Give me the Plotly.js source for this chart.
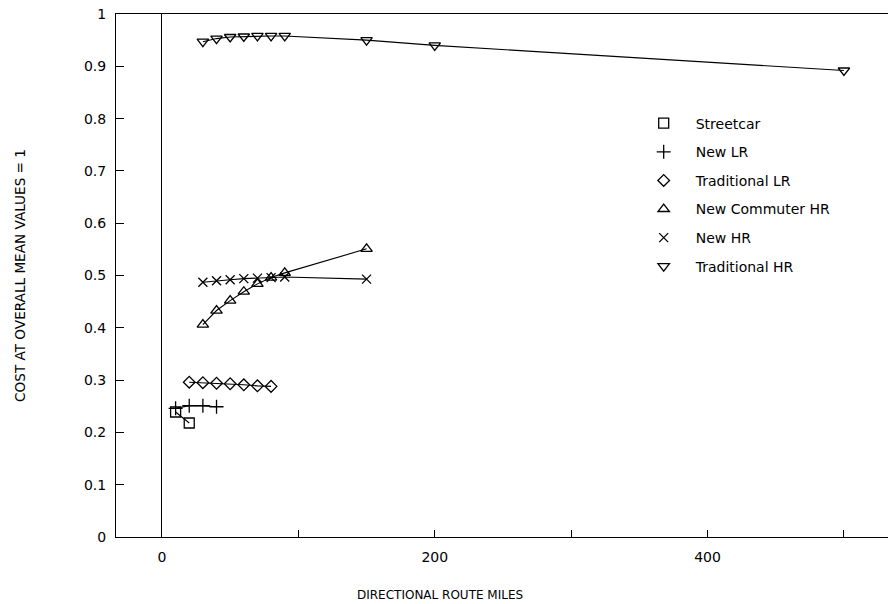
<!DOCTYPE html>
<html>
<head>
<meta charset="utf-8">
<script src="https://cdn.plot.ly/plotly-3.0.1.min.js"></script>
<style>html,body{margin:0;padding:0;background:#fff;}#chart{width:888px;height:604px;}</style>
</head>
<body>
<div id="chart"></div>
<script>
// ---- data ----
const seriesNames = ["Streetcar", "New LR", "Traditional LR", "New Commuter HR", "New HR", "Traditional HR"];
const streetcarX = [10, 20];
const streetcarY = [0.239, 0.218];
const newLRX = [10, 20, 30, 40];
const newLRY = [0.246, 0.251, 0.251, 0.249];
const tradLRX = [20, 30, 40, 50, 60, 70, 80];
const tradLRY = [0.296, 0.295, 0.294, 0.293, 0.291, 0.289, 0.288];
const newCommX = [30, 40, 50, 60, 70, 80, 90, 150];
const newCommY = [0.406, 0.433, 0.452, 0.469, 0.484, 0.496, 0.505, 0.551];
const newHRX = [30, 40, 50, 60, 70, 80, 90, 150];
const newHRY = [0.487, 0.490, 0.492, 0.494, 0.495, 0.496, 0.497, 0.493];
const tradHRX = [30, 40, 50, 60, 70, 80, 90, 150, 200, 500];
const tradHRY = [0.947, 0.953, 0.956, 0.957, 0.958, 0.958, 0.958, 0.950, 0.940, 0.892];
const xTickVals = [0, 100, 200, 300, 400, 500];
const xTickText = ["0", "", "200", "", "400", ""];
const yTickVals = [0, 0.1, 0.2, 0.3, 0.4, 0.5, 0.6, 0.7, 0.8, 0.9, 1];
const yTickText = ["0", "0.1", "0.2", "0.3", "0.4", "0.5", "0.6", "0.7", "0.8", "0.9", "1"];

const xs = [streetcarX, newLRX, tradLRX, newCommX, newHRX, tradHRX];
const ys = [streetcarY, newLRY, tradLRY, newCommY, newHRY, tradHRY];
const symbols = ["square-open", "cross-thin-open", "diamond-open", "triangle-up-open", "x-thin-open", "triangle-down-open"];
const sizes = [10, 10, 9, 10, 9, 10];

const FONT = "DejaVu Sans, Liberation Sans, sans-serif";
const traces = [];
for (let i = 0; i < seriesNames.length; i++) {
  traces.push({
    x: xs[i], y: ys[i], type: "scatter", mode: "lines",
    line: {color: "#000", width: 1.1},
    showlegend: false, hoverinfo: "skip"
  });
}
for (let i = 0; i < seriesNames.length; i++) {
  traces.push({
    x: xs[i], y: ys[i], type: "scatter", mode: "markers",
    name: seriesNames[i], legendgroup: "g" + i,
    marker: {symbol: symbols[i], size: sizes[i], color: "#000", line: {color: "#000", width: 1.3}}
  });
}

const layout = {
  width: 888, height: 604,
  margin: {l: 116, r: 0, t: 14, b: 67},
  paper_bgcolor: "#fff", plot_bgcolor: "#fff",
  font: {family: FONT, color: "#000", size: 13},
  showlegend: true,
  legend: {
    x: 0.668, y: 0.821, xanchor: "left", yanchor: "top",
    font: {family: FONT, size: 14, color: "#000"},
    tracegroupgap: 7.4, itemwidth: 54, bgcolor: "rgba(0,0,0,0)"
  },
  xaxis: {
    range: [-33.7, 532.3],
    tickmode: "array", tickvals: xTickVals, ticktext: xTickText,
    ticks: "inside", ticklen: 7, tickcolor: "#000", tickwidth: 1,
    showline: true, linecolor: "#000", linewidth: 1, mirror: true,
    showgrid: false, zeroline: true, zerolinecolor: "#000", zerolinewidth: 1,
    tickfont: {family: FONT, size: 14, color: "#000"},
    ticklabelstandoff: 7
  },
  yaxis: {
    range: [0, 1],
    tickmode: "array", tickvals: yTickVals, ticktext: yTickText,
    ticks: "inside", ticklen: 8, tickcolor: "#000", tickwidth: 1,
    showline: true, linecolor: "#000", linewidth: 1,
    showgrid: false, zeroline: false,
    tickfont: {family: FONT, size: 14, color: "#000"},
    ticklabelstandoff: 6,
    title: {text: "COST AT OVERALL MEAN VALUES = 1", font: {family: FONT, size: 13.6, color: "#000"}, standoff: 55}
  },
  annotations: [{
    text: "DIRECTIONAL ROUTE MILES", xref: "paper", yref: "paper",
    x: 0.42, y: -0.111, xanchor: "center", yanchor: "middle", showarrow: false,
    font: {family: FONT, size: 12, color: "#000"}
  }]
};

Plotly.newPlot("chart", traces, layout, {displayModeBar: false, staticPlot: true});
</script>
</body>
</html>
